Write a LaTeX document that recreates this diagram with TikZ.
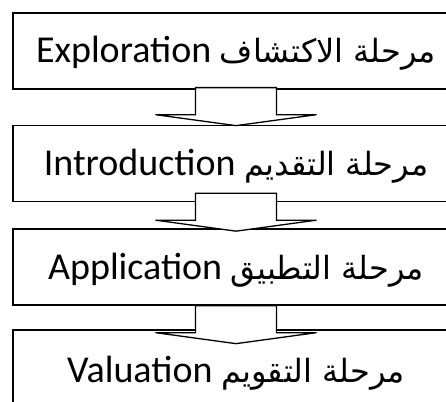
\documentclass[tikz,border=0pt]{standalone}
\usepackage{fontspec}
\setmainfont{Carlito}
\newfontfamily\arabicfont[Script=Arabic]{DejaVu Sans}
\TeXXeTstate=1
\usetikzlibrary{calc}

\newcommand{\ar}[1]{{\arabicfont\fontsize{32}{40}\selectfont #1}}

% block arrow below a stage box: #1 = box, #2 = shift of its top edge
\newcommand{\stagearrow}[2]{%
	\draw[stage_arrow] ($(#1.south)+(-40.5,#2)$) -- ++(0,27) -- ++(-40,0)
	-- ($(#1.south)+(0,{#2+38})$) -- ($(#1.south)+(80.5,{#2+27})$) -- ++(-40,0)
	-- ($(#1.south)+(40.5,#2)$) -- cycle;
}

\begin{document}
\begin{tikzpicture}[x=1pt, y=-1pt,
					stage/.style = {draw, line width=1.3pt, minimum width=446pt, minimum height=76pt,
						inner sep=0pt, text height=24pt, text depth=0pt,
						font=\fontsize{38}{46}\selectfont},
					stage_arrow/.style = {draw, fill=white, line width=1.3pt, line join=miter}
				]
				\useasboundingbox (0,0) rectangle (446,401);
				\clip (0,0) rectangle (446,401);

				\node[stage] (explore) at (236,51)
				{\beginR\ar{مرحلة الاكتشاف} \beginL Exploration\endL\endR};
				\node[stage] (intro) at (236,163.5)
				{\beginR\ar{مرحلة التقديم} \beginL Introduction\endL\endR};
				\node[stage] (apply) at (236,267)
				{\beginR\ar{مرحلة التطبيق} \beginL Application\endL\endR};
				\node[stage, minimum height=80pt] (value) at (236,370)
				{\beginR\ar{مرحلة التقويم} \beginL Valuation\endL\endR};

				\stagearrow{explore}{-2}
				\stagearrow{intro}{-9}
				\stagearrow{apply}{0}
			\end{tikzpicture}
\end{document}
